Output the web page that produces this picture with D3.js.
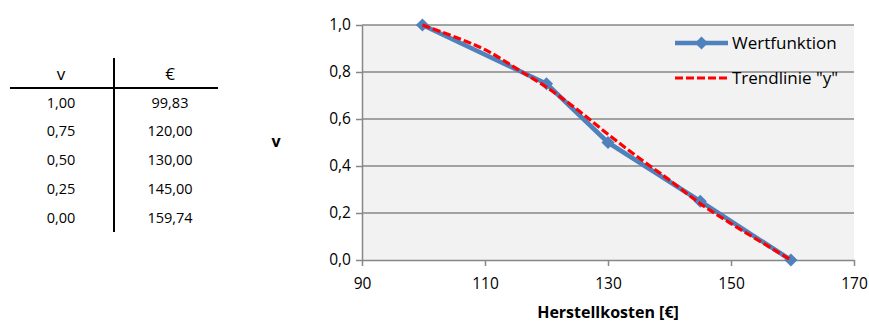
<!DOCTYPE html>
<html>
<head>
<meta charset="utf-8">
<script src="https://cdn.jsdelivr.net/npm/d3@7"></script>
<style>
  body { margin: 0; background: #fff; }
  svg text { font-family: "Open Sans", "Noto Sans", sans-serif; }
</style>
</head>
<body>
<svg id="chart" width="869" height="322"></svg>
<script>
// table values
const tableV = ["1,00", "0,75", "0,50", "0,25", "0,00"];
const tableEuro = ["99,83", "120,00", "130,00", "145,00", "159,74"];

// Wertfunktion points
const costs = [99.83, 120, 130, 145, 159.74];
const values = [1.0, 0.75, 0.5, 0.25, 0.0];

// trend line
const trendX = [99.83, 105, 110, 116, 120, 125, 130, 135, 140, 145, 150, 155, 159.74];
const trendY = [1.0, 0.95, 0.895, 0.8, 0.735, 0.64, 0.535, 0.435, 0.34, 0.24, 0.155, 0.075, 0.0];

const xTicks = [90, 110, 130, 150, 170];
const yTicks = [0, 0.2, 0.4, 0.6, 0.8, 1.0];

var svg = d3.select("#chart");

// ---- table ----
var tbl = svg.append("g");
var colV = 61, colE = 170;
tbl.append("text").attr("x", colV).attr("y", 80).attr("text-anchor", "middle")
    .style("font-size", "17px").text("v");
tbl.append("text").attr("x", colE).attr("y", 80).attr("text-anchor", "middle")
    .style("font-size", "17px").text("€");
tbl.append("line").attr("x1", 10).attr("x2", 218).attr("y1", 88).attr("y2", 88)
    .attr("stroke", "#000").attr("stroke-width", 2);
tbl.append("line").attr("x1", 114).attr("x2", 114).attr("y1", 58).attr("y2", 232)
    .attr("stroke", "#000").attr("stroke-width", 2);
tableV.forEach(function(d, i) {
    var y = 107.5 + i * 28.8;
    tbl.append("text").attr("x", colV).attr("y", y).attr("text-anchor", "middle")
        .style("font-size", "14.5px").text(d);
    tbl.append("text").attr("x", colE).attr("y", y).attr("text-anchor", "middle")
        .style("font-size", "14.5px").text(tableEuro[i]);
});

// ---- chart ----
var x = d3.scaleLinear().domain([90, 170]).range([362, 854]);
var y = d3.scaleLinear().domain([0, 1]).range([260, 25]);

svg.append("rect")
    .attr("x", x(90)).attr("y", y(1))
    .attr("width", x(170) - x(90)).attr("height", y(0) - y(1))
    .attr("fill", "#f2f2f2");

// gridlines
svg.append("g").selectAll("line")
    .data(yTicks.filter(function(d) { return d > 0; }))
    .enter().append("line")
    .attr("x1", x(90)).attr("x2", x(170))
    .attr("y1", function(d) { return y(d); }).attr("y2", function(d) { return y(d); })
    .attr("stroke", "#878787").attr("stroke-width", 1.5);

var xAxis = d3.axisBottom(x).tickValues(xTicks).tickSize(6).tickSizeOuter(0)
    .tickFormat(d3.format("d"));
var yAxis = d3.axisLeft(y).tickValues(yTicks).tickSize(6).tickSizeOuter(0)
    .tickFormat(function(d) { return d3.format(".1f")(d).replace(".", ","); });

var gx = svg.append("g").attr("transform", "translate(0," + y(0) + ")").call(xAxis);
var gy = svg.append("g").attr("transform", "translate(" + x(90) + ",0)").call(yAxis);
[gx, gy].forEach(function(g) {
    g.select(".domain").attr("stroke", "#878787").attr("stroke-width", 1.5);
    g.selectAll(".tick line").attr("stroke", "#878787").attr("stroke-width", 1.5);
    g.selectAll(".tick text").attr("fill", "#000").style("font-size", "15.5px")
        .style("font-family", "'Open Sans', sans-serif");
});
gx.selectAll(".tick text").attr("dy", "1.3em");
gy.selectAll(".tick text").attr("x", -11);

// series line
var line = d3.line().x(function(d) { return x(d[0]); }).y(function(d) { return y(d[1]); });
svg.append("path")
    .attr("d", line(d3.zip(costs, values)))
    .attr("fill", "none").attr("stroke", "#4f81bd").attr("stroke-width", 4.5)
    .attr("stroke-linejoin", "round");

var diamond = d3.symbol().type(d3.symbolDiamond2).size(110);
svg.append("g").selectAll("path")
    .data(d3.zip(costs, values))
    .enter().append("path")
    .attr("d", diamond)
    .attr("transform", function(d) { return "translate(" + x(d[0]) + "," + y(d[1]) + ")"; })
    .attr("fill", "#4f81bd");

// trend line
var trend = d3.line().curve(d3.curveMonotoneX)
    .x(function(d) { return x(d[0]); }).y(function(d) { return y(d[1]); });
svg.append("path")
    .attr("d", trend(d3.zip(trendX, trendY)))
    .attr("fill", "none").attr("stroke", "#ff0000").attr("stroke-width", 3.2)
    .attr("stroke-dasharray", "8,3");

// legend
var leg = svg.append("g");
leg.append("line").attr("x1", 675).attr("x2", 728).attr("y1", 43).attr("y2", 43)
    .attr("stroke", "#4f81bd").attr("stroke-width", 4.5);
leg.append("path").attr("d", diamond).attr("transform", "translate(701.5,43)").attr("fill", "#4f81bd");
leg.append("text").attr("x", 732).attr("y", 49).style("font-size", "17px").text("Wertfunktion");
leg.append("line").attr("x1", 675).attr("x2", 728).attr("y1", 78).attr("y2", 78)
    .attr("stroke", "#ff0000").attr("stroke-width", 3.2).attr("stroke-dasharray", "8,3");
leg.append("text").attr("x", 732).attr("y", 84).style("font-size", "17px").text("Trendlinie \"y\"");

// axis titles
svg.append("text").attr("x", 608).attr("y", 318).attr("text-anchor", "middle")
    .style("font-size", "16px").style("font-weight", "bold").text("Herstellkosten [€]");
svg.append("text").attr("x", 276).attr("y", 147).attr("text-anchor", "middle")
    .style("font-size", "16px").style("font-weight", "bold").text("v");
</script>
</body>
</html>
